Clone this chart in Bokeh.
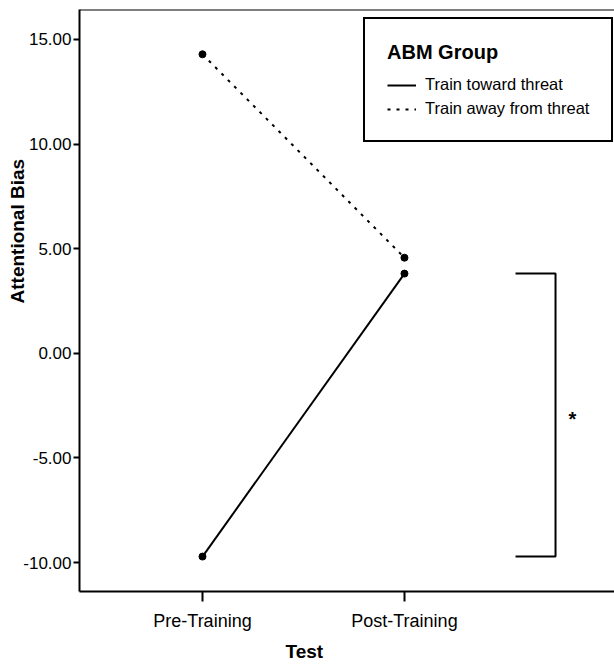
from bokeh.plotting import figure
from bokeh.models import (Range1d, FixedTicker, NumeralTickFormatter, Legend, LegendItem,
                          Span, Title)
from bokeh.core.properties import value
from bokeh.embed import file_html
from bokeh.resources import INLINE

# ---- data ----
tests = ["Pre-Training", "Post-Training"]
test_pos = [0, 1]
toward_threat = [-9.71, 3.81]
away_from_threat = [14.29, 4.57]
y_ticks = [-10, -5, 0, 5, 10, 15]

FONT = "Liberation Sans"
Y_TOP, Y_BOTTOM = 16.43, -11.38

p = figure(width=614, height=666, output_backend="svg", toolbar_location=None,
           x_range=Range1d(-0.609, 2.04), y_range=Range1d(Y_BOTTOM, Y_TOP),
           min_border_left=79, min_border_right=0, min_border_top=9, min_border_bottom=73)
p.outline_line_color = None
p.background_fill_color = "white"
p.border_fill_color = "white"
p.xgrid.visible = False
p.ygrid.visible = False

# top frame line
p.add_layout(Span(location=Y_TOP, dimension="width", line_color="black", line_width=2))

# y axis
yax = p.yaxis[0]
yax.ticker = FixedTicker(ticks=y_ticks)
yax.formatter = NumeralTickFormatter(format="0.00")
yax.major_label_text_font = FONT
yax.major_label_text_font_size = "17px"
yax.major_label_text_color = "black"
yax.major_tick_out = 6
yax.major_tick_in = 0
yax.major_tick_line_width = 2
yax.minor_tick_line_color = None
yax.axis_line_width = 2
yax.major_label_standoff = 2

# x axis
xax = p.xaxis[0]
xax.ticker = FixedTicker(ticks=test_pos)
xax.major_label_overrides = {pos: name for pos, name in zip(test_pos, tests)}
xax.major_label_text_font = FONT
xax.major_label_text_font_size = "18px"
xax.major_label_text_color = "black"
xax.major_tick_out = 10
xax.major_tick_in = 0
xax.major_tick_line_width = 2
xax.minor_tick_line_color = None
xax.axis_line_width = 2
xax.major_label_standoff = 9

# axis titles
p.add_layout(Title(text="Test", align="left", offset=206, standoff=10,
                   text_font=FONT, text_font_size="19px", text_font_style="bold",
                   text_color="black"), "below")
p.add_layout(Title(text="Attentional Bias", align="left", offset=288, standoff=-14,
                   text_font=FONT, text_font_size="19px", text_font_style="bold",
                   text_color="black"), "left")

# data lines
r1 = p.line(test_pos, toward_threat, line_color="black", line_width=2)
p.scatter(test_pos, toward_threat, size=7, color="black")
r2 = p.line(test_pos, away_from_threat, line_color="black", line_width=2, line_dash="3 6")
p.scatter(test_pos, away_from_threat, size=7, color="black")

# significance bracket
bx0, bx1 = 1.55, 1.748
p.line([bx0, bx1, bx1, bx0],
       [toward_threat[1], toward_threat[1], toward_threat[0], toward_threat[0]],
       line_color="black", line_width=2)
p.text(x=[1.832], y=[(toward_threat[0] + toward_threat[1]) / 2], text=["*"],
       text_font=value(FONT), text_font_size="20px", text_font_style="bold",
       text_align="center", text_baseline="middle", y_offset=4)

# legend
legend = Legend(items=[LegendItem(label="Train toward threat", renderers=[r1]),
                       LegendItem(label="Train away from threat", renderers=[r2])],
                location=(284, 449), title="ABM Group")
legend.title_text_font = FONT
legend.title_text_font_size = "20px"
legend.title_text_font_style = "bold"
legend.title_text_color = "black"
legend.title_standoff = 11
legend.label_text_font = FONT
legend.label_text_font_size = "16.5px"
legend.label_text_color = "black"
legend.glyph_width = 29
legend.glyph_height = 16
legend.label_height = 16
legend.label_width = 150
legend.label_standoff = 9
legend.spacing = 5
legend.padding = 22
legend.margin = 0
legend.border_line_color = "black"
legend.border_line_alpha = 1
legend.border_line_width = 2
legend.background_fill_alpha = 1
p.add_layout(legend)

open("out.html", "w").write(file_html(p, INLINE))
